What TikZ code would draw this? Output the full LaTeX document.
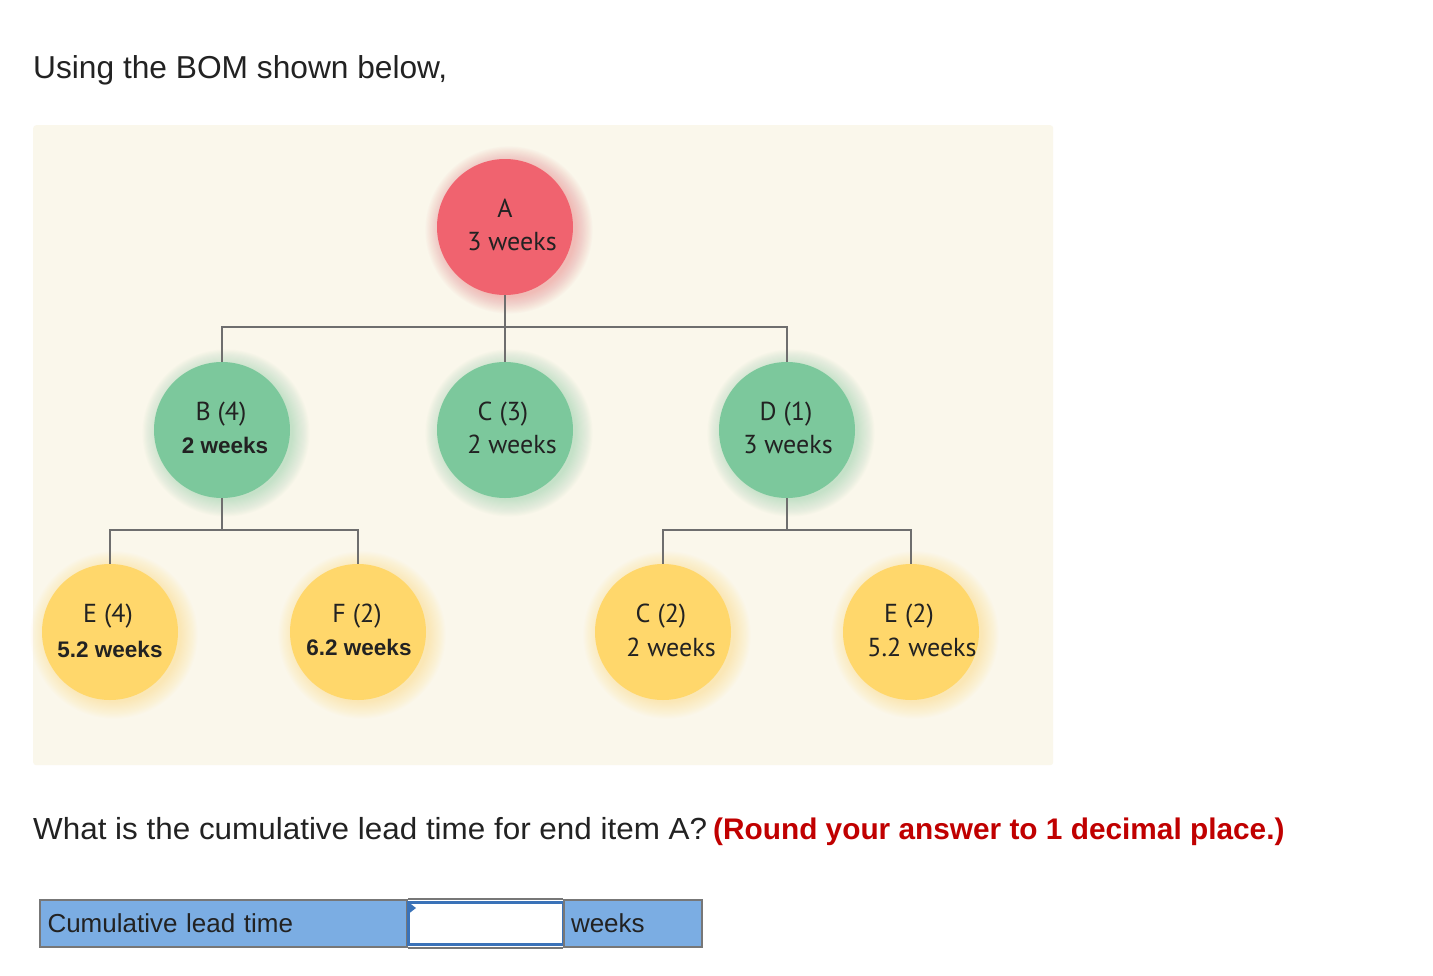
\documentclass[tikz,border=0pt]{standalone}
\usepackage{fontspec}
\setmainfont{Liberation Sans}
\newfontfamily\bomfont{PT Sans}
\newfontfamily\qfont[FakeStretch=1.03]{Liberation Sans}
\definecolor{panel}{HTML}{FAF7EB}
\definecolor{redA}{HTML}{F0636F}
\definecolor{greenB}{HTML}{7CC89C}
\definecolor{yellowE}{HTML}{FFD76B}
\definecolor{linegray}{HTML}{6E6E6E}
\definecolor{txt}{HTML}{222222}
\definecolor{hint}{HTML}{C00000}
\definecolor{cellblue}{HTML}{7BADE3}
\definecolor{cellborder}{HTML}{777777}
\definecolor{inputblue}{HTML}{3A72B8}
\newcommand\bomglow[3]{%
  \foreach \k in {1,...,16}{\fill[#1, opacity=0.028] (#2+4,#3+3) circle ({66pt+\k*1.1pt});}}
\begin{document}
\begin{tikzpicture}[x=1pt,y=-1pt,
  part/.style={circle, minimum size=136pt, inner sep=0pt},
  ptxt/.style={anchor=base, inner sep=0pt, text=txt, font=\bomfont\fontsize{26}{30}\selectfont},
  pbold/.style={anchor=base, inner sep=0pt, text=txt, font=\bfseries\fontsize{22.5}{26}\selectfont},
  conn/.style={draw=linegray, line width=2pt},
  cell/.style={fill=cellblue, draw=cellborder, line width=2pt, minimum height=47pt,
     inner sep=0pt, font=\fontsize{26}{30}\selectfont, text=txt}]
\useasboundingbox (0,0) rectangle (1433,975);
\fill[white] (0,0) rectangle (1433,975);
\node[anchor=base west, inner sep=0pt, text=txt, font=\fontsize{31.7}{36}\selectfont] (title) at (33,78) {Using the BOM shown below,};
\node[fill=panel, rounded corners=3pt, minimum width=1020pt, minimum height=640pt, anchor=north west, inner sep=0pt] (panel) at (33,125) {};
% glows
\bomglow{redA}{505}{227}
\bomglow{greenB}{222}{430}
\bomglow{greenB}{505}{430}
\bomglow{greenB}{787}{430}
\bomglow{yellowE}{110}{632}
\bomglow{yellowE}{358}{632}
\bomglow{yellowE}{663}{632}
\bomglow{yellowE}{911}{632}
% coordinates of bars
\coordinate (barA) at (505,327);
\coordinate (barB) at (222,530);
\coordinate (barD) at (787,530);
% circles
\node[part, fill=redA] (A) at (505,227) {};
\node[part, fill=greenB] (B) at (222,430) {};
\node[part, fill=greenB] (C3) at (505,430) {};
\node[part, fill=greenB] (D) at (787,430) {};
\node[part, fill=yellowE] (E4) at (110,632) {};
\node[part, fill=yellowE] (F) at (358,632) {};
\node[part, fill=yellowE] (C2) at (663,632) {};
\node[part, fill=yellowE] (E2) at (911,632) {};
% labels
\node[ptxt] (A1) at (505,217) {A};
\node[ptxt] (A2) at (512,250) {3 weeks};
\node[ptxt] (B1) at (221,420) {B (4)};
\node[pbold] (B2) at (225,453) {2 weeks};
\node[ptxt] (C31) at (503,420) {C (3)};
\node[ptxt] (C32) at (512,453) {2 weeks};
\node[ptxt] (D1) at (786,420) {D (1)};
\node[ptxt] (D2) at (788,453) {3 weeks};
\node[ptxt] (E41) at (108,622) {E (4)};
\node[pbold] (E42) at (110,657) {5.2 weeks};
\node[ptxt] (F1) at (357,622) {F (2)};
\node[pbold] (F2) at (359,655) {6.2 weeks};
\node[ptxt] (C21) at (661,622) {C (2)};
\node[ptxt] (C22) at (671,656) {2 weeks};
\node[ptxt] (E21) at (909,622) {E (2)};
\node[ptxt] (E22) at (922,656) {5.2 weeks};
% connectors
\draw[conn] (A.south) -- (C3.north);
\draw[conn] (B.north) |- (barA) -| (D.north);
\draw[conn] (B.south) -- (barB);
\draw[conn] (E4.north) |- (barB) -| (F.north);
\draw[conn] (D.south) -- (barD);
\draw[conn] (C2.north) |- (barD) -| (E2.north);
% question
\node[anchor=base west, inner sep=0pt, text=txt, font=\qfont\fontsize{30.5}{34}\selectfont] (q) at (33,839) {What is the cumulative lead time for end item A?};
\node[anchor=base west, inner sep=0pt, text=hint, font=\bfseries\fontsize{29.8}{34}\selectfont] (qh) at (713,839) {(Round your answer to 1 decimal place.)};
% answer row
\node[cell, anchor=north west, minimum width=367pt, text width=352pt, align=left] (lbl) at (39,899) {Cumulative lead time};
\node[fill=white, draw=inputblue, line width=2.5pt, anchor=north west, minimum width=155pt, minimum height=42pt, inner sep=0pt] (inp) at (407,901) {};
\node[cell, anchor=north west, minimum width=138pt, text width=124pt, align=left] (unit) at (563,899) {weeks};
\draw[cellborder, line width=2pt] (lbl.north east) -- (unit.north west) (lbl.south east) -- (unit.south west);
\fill[inputblue] (inp.north west) -- ++(9,7) -- ++(-9,7) -- cycle;
\end{tikzpicture}
\end{document}
